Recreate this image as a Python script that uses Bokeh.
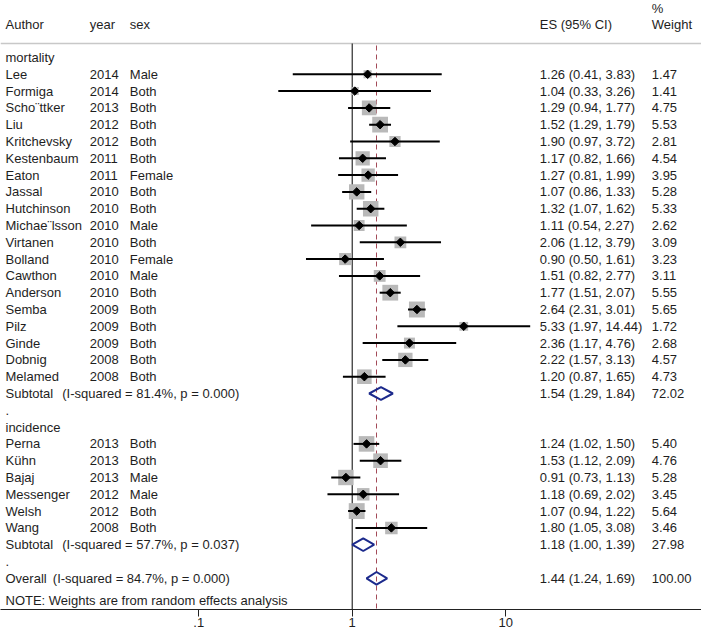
import numpy as np
from bokeh.plotting import figure
from bokeh.models import (Range1d, LinearScale, ColumnDataSource, FixedTicker,
                          CustomJSTickFormatter)
from bokeh.core.properties import value
from bokeh.embed import file_html
from bokeh.resources import INLINE

# ---------------- data ----------------
mort_author = ["Lee", "Formiga", "Scho\u00a8ttker", "Liu", "Kritchevsky", "Kestenbaum", "Eaton",
               "Jassal", "Hutchinson", "Michae\u00a8lsson", "Virtanen", "Bolland", "Cawthon",
               "Anderson", "Semba", "Pilz", "Ginde", "Dobnig", "Melamed"]
mort_year = [2014, 2014, 2013, 2012, 2012, 2011, 2011, 2010, 2010, 2010, 2010, 2010, 2010,
             2010, 2009, 2009, 2009, 2008, 2008]
mort_sex = ["Male", "Both", "Both", "Both", "Both", "Both", "Female", "Both", "Both", "Male",
            "Both", "Female", "Male", "Both", "Both", "Both", "Both", "Both", "Both"]
mort_es = [1.26, 1.04, 1.29, 1.52, 1.90, 1.17, 1.27, 1.07, 1.32, 1.11, 2.06, 0.90, 1.51,
           1.77, 2.64, 5.33, 2.36, 2.22, 1.20]
mort_lo = [0.41, 0.33, 0.94, 1.29, 0.97, 0.82, 0.81, 0.86, 1.07, 0.54, 1.12, 0.50, 0.82,
           1.51, 2.31, 1.97, 1.17, 1.57, 0.87]
mort_hi = [3.83, 3.26, 1.77, 1.79, 3.72, 1.66, 1.99, 1.33, 1.62, 2.27, 3.79, 1.61, 2.77,
           2.07, 3.01, 14.44, 4.76, 3.13, 1.65]
mort_wt = [1.47, 1.41, 4.75, 5.53, 2.81, 4.54, 3.95, 5.28, 5.33, 2.62, 3.09, 3.23, 3.11,
           5.55, 5.65, 1.72, 2.68, 4.57, 4.73]

inc_author = ["Perna", "K\u00fchn", "Bajaj", "Messenger", "Welsh", "Wang"]
inc_year = [2013, 2013, 2013, 2012, 2012, 2008]
inc_sex = ["Both", "Both", "Male", "Male", "Both", "Both"]
inc_es = [1.24, 1.53, 0.91, 1.18, 1.07, 1.80]
inc_lo = [1.02, 1.12, 0.73, 0.69, 0.94, 1.05]
inc_hi = [1.50, 2.09, 1.13, 2.02, 1.22, 3.08]
inc_wt = [5.40, 4.76, 5.28, 3.45, 5.64, 3.46]

pooled_label = ["Subtotal", "Subtotal", "Overall"]
pooled_het = ["(I-squared = 81.4%, p = 0.000)", "(I-squared = 57.7%, p = 0.037)",
              "(I-squared = 84.7%, p = 0.000)"]
pooled_es = [1.54, 1.18, 1.44]
pooled_lo = [1.29, 1.00, 1.24]
pooled_hi = [1.84, 1.39, 1.69]
pooled_wt = [72.02, 27.98, 100.00]

group_names = ["mortality", "incidence"]
header_cols = ["Author", "year", "sex", "ES (95% CI)", "Weight"]
header_pct = "%"
note_text = "NOTE: Weights are from random effects analysis"
tick_values = [0.1, 1, 10]
tick_labels = [".1", "1", "10"]

# ---------------- layout ----------------
W, FH = 701, 609          # frame width / height (canvas px)
ROW0, ROWH = 57.0, 16.8   # canvas y of row 0, row pitch
def row_of(py):           # canvas px -> row units
    return (py - ROW0) / ROWH

X_AUTHOR, X_YEAR, X_SEX, X_ES, X_WT = 5.0, 89.3, 129.3, 539.3, 651.3
X_HET = [61.7, 61.7, 52.3]
FONT = value("Liberation Sans")
FS = "13px"
TXT = "#1e1e1e"

# row assignment
r_mort_hdr = 0
r_mort = list(range(1, 1 + len(mort_author)))
r_mort_sub = r_mort[-1] + 1
r_dot1 = r_mort_sub + 1
r_inc_hdr = r_dot1 + 1
r_inc = list(range(r_inc_hdr + 1, r_inc_hdr + 1 + len(inc_author)))
r_inc_sub = r_inc[-1] + 1
r_dot2 = r_inc_sub + 1
r_overall = r_dot2 + 1
r_note = row_of(600)
pooled_rows = [r_mort_sub, r_inc_sub, r_overall]

X1PX, DECADE = 351.7, 153.5
lx0 = 10 ** ((0 - X1PX) / DECADE)
lx1 = 10 ** ((W - X1PX) / DECADE)
y_bottom = row_of(FH)
y_top = row_of(0)
y_hline = row_of(43)

p = figure(frame_width=W, frame_height=FH, x_axis_type="log",
           x_range=Range1d(lx0, lx1), y_range=Range1d(y_bottom, y_top),
           output_backend="svg", toolbar_location=None, y_axis_location=None,
           min_border=0, background_fill_color="white",
           border_fill_color="white", outline_line_color=None)
p.extra_x_ranges = {"px": Range1d(0, W)}
p.extra_x_scales = {"px": LinearScale()}
p.grid.visible = False

# header separator
p.segment(x0=[0], x1=[W], y0=[y_hline], y1=[y_hline], x_range_name="px",
          line_color="#c8c8c8", line_width=1.5)

# null line and overall-effect dashed line
p.segment(x0=[1], x1=[1], y0=[y_hline], y1=[y_bottom], line_color="black", line_width=1)
p.segment(x0=[pooled_es[2]], x1=[pooled_es[2]], y0=[row_of(45)], y1=[y_bottom],
          line_color="#a34a58", line_width=1, line_dash="5 4")

# studies
st_es = mort_es + inc_es
st_lo = mort_lo + inc_lo
st_hi = mort_hi + inc_hi
st_wt = mort_wt + inc_wt
st_rows = r_mort + r_inc
src = ColumnDataSource(dict(es=st_es, lo=st_lo, hi=st_hi, y=st_rows,
                            box=[6.7 * np.sqrt(w) for w in st_wt]))
p.scatter(x="es", y="y", size="box", marker="square", source=src,
          fill_color="#b9b9b9", line_color=None)
p.segment(x0="lo", x1="hi", y0="y", y1="y", source=src, line_color="black", line_width=2)
p.scatter(x="es", y="y", size=6, marker="square", angle=np.pi / 4, source=src,
          fill_color="black", line_color="black")

# pooled diamonds
h = 6.3 / ROWH
xs = [[lo, es, hi, es] for lo, es, hi in zip(pooled_lo, pooled_es, pooled_hi)]
ys = [[r, r - h, r, r + h] for r in pooled_rows]
p.patches(xs=xs, ys=ys, fill_color=None, line_color="#1c2a8c", line_width=2)

# ---------------- text ----------------
def put(x, y, t, baseline="middle"):
    p.text(x=x, y=y, text=t, x_range_name="px", text_font=FONT, text_font_size=FS,
           text_color=TXT, text_baseline=baseline, text_align="left")

hy = row_of(24)
put([X_AUTHOR, X_YEAR, X_SEX, X_ES, X_WT], [hy] * 5, header_cols)
put([X_WT], [row_of(7.5)], [header_pct])

put([X_AUTHOR, X_AUTHOR], [r_mort_hdr, r_inc_hdr], group_names)
put([X_AUTHOR] * len(st_rows), st_rows, mort_author + inc_author)
put([X_YEAR] * len(st_rows), st_rows, [str(v) for v in mort_year + inc_year])
put([X_SEX] * len(st_rows), st_rows, mort_sex + inc_sex)
put([X_ES] * len(st_rows), st_rows,
    [f"{e:.2f} ({l:.2f}, {u:.2f})" for e, l, u in zip(st_es, st_lo, st_hi)])
put([X_WT] * len(st_rows), st_rows, [f"{w:.2f}" for w in st_wt])

put([X_AUTHOR] * 3, pooled_rows, pooled_label)
put(X_HET, pooled_rows, pooled_het)
put([X_ES] * 3, pooled_rows,
    [f"{e:.2f} ({l:.2f}, {u:.2f})" for e, l, u in zip(pooled_es, pooled_lo, pooled_hi)])
put([X_WT] * 3, pooled_rows, [f"{w:.2f}" for w in pooled_wt])
put([X_AUTHOR, X_AUTHOR], [r_dot1, r_dot2], [".", "."], baseline="alphabetic")
put([X_AUTHOR], [r_note], [note_text])

# ---------------- axis ----------------
ax = p.xaxis[0]
ax.ticker = FixedTicker(ticks=tick_values)
ax.formatter = CustomJSTickFormatter(
    args=dict(vals=tick_values, labs=tick_labels),
    code="for (let i = 0; i < vals.length; i++) { if (Math.abs(vals[i] - tick) < 1e-9 * Math.max(1, vals[i])) return labs[i]; } return '';")
ax.minor_tick_line_color = None
ax.major_tick_in = 0
ax.major_tick_out = 7
ax.major_label_standoff = 1
ax.axis_line_color = "#222222"
ax.major_tick_line_color = "#222222"
ax.major_label_text_font = "Liberation Sans"
ax.major_label_text_font_size = FS
ax.major_label_text_color = TXT

open("out.html", "w").write(file_html(p, INLINE))
